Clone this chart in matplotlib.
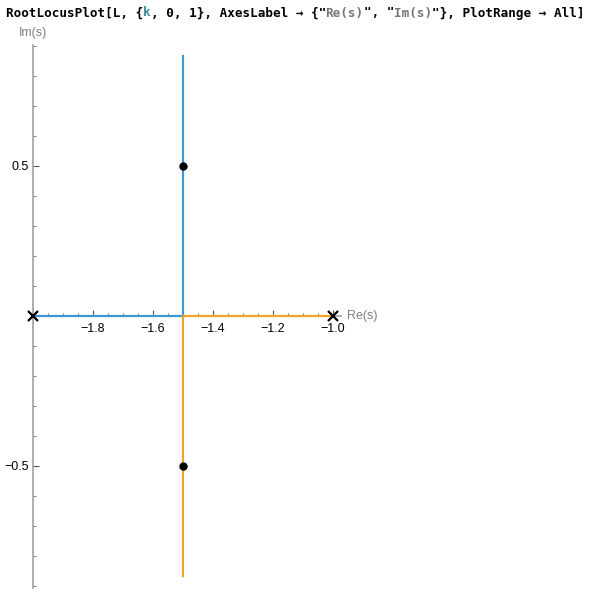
import numpy as np
import matplotlib.pyplot as plt
from matplotlib.ticker import MultipleLocator, FixedLocator

# root locus branches
blue_re = [-2.0, -1.5, -1.5]
blue_im = [0.0, 0.0, 0.866]
orange_re = [-1.0, -1.5, -1.5]
orange_im = [0.0, 0.0, -0.866]
poles_re = [-2.0, -1.0]
poles_im = [0.0, 0.0]
pts_re = [-1.5, -1.5]
pts_im = [0.5, -0.5]
xticks = [-1.8, -1.6, -1.4, -1.2, -1.0]
yticks = [-0.5, 0.5]

W, H = 591, 592
fig = plt.figure(figsize=(W / 100, H / 100), dpi=100)

# axes placed so that 1 data unit = 300 px
x0, x1 = -2.0, -0.975
y0, y1 = -0.905, 0.905
left_px, top_px = 33, 316 - y1 * 300
ax = fig.add_axes([left_px / W, 1 - (top_px + (y1 - y0) * 300) / H,
                   (x1 - x0) * 300 / W, (y1 - y0) * 300 / H])
ax.set_xlim(x0, x1)
ax.set_ylim(y0, y1)

ax.plot(blue_re, blue_im, color='#3f97d0', lw=1.6, zorder=3)
ax.plot(orange_re, orange_im, color='#f0a42e', lw=1.6, zorder=3)
ax.plot(pts_re, pts_im, 'o', color='black', ms=5, zorder=5, clip_on=False)
ax.plot(poles_re, poles_im, 'x', color='black', ms=7, mew=1.6, zorder=5,
        clip_on=False)

for s in ['top', 'right']:
    ax.spines[s].set_visible(False)
ax.spines['bottom'].set_position(('data', 0))
ax.spines['left'].set_position(('data', -2.0))
for s in ['left', 'bottom']:
    ax.spines[s].set_color('#a0a0a0')
    ax.spines[s].set_linewidth(1.2)

ax.xaxis.set_major_locator(FixedLocator(xticks))
ax.xaxis.set_minor_locator(MultipleLocator(0.05))
ax.yaxis.set_major_locator(FixedLocator(yticks))
ax.yaxis.set_minor_locator(FixedLocator([v / 10 for v in range(-9, 10) if v not in (0, -5, 5)]))
ax.set_xticklabels(['\u22121.8', '\u22121.6', '\u22121.4', '\u22121.2', '\u22121.0'])
ax.set_yticklabels(['\u22120.5', '0.5'])
ax.tick_params(which='major', direction='in', length=4, width=0.8, color='#555555',
               labelsize=9, pad=5)
ax.tick_params(axis='y', which='major', pad=3)
ax.tick_params(which='minor', direction='in', length=2.5, width=0.7, color='#777777')
for lab in ax.get_xticklabels() + ax.get_yticklabels():
    lab.set_family('Liberation Sans')

# axis labels
fig.text(347 / W, 1 - 316 / H, 'Re(s)', ha='left', va='center', fontsize=9,
         color='#808080', family='Liberation Sans')
fig.text(33 / W, 1 - 33 / H, 'Im(s)', ha='center', va='center', fontsize=9,
         color='#808080', family='Liberation Sans')

# input line above the plot
parts = [('RootLocusPlot[L, {', 'black'), ('k', '#3b8a96'),
         (', 0, 1}, AxesLabel \u2192 {"', 'black'), ('Re(s)', '#777777'),
         ('", "', 'black'), ('Im(s)', '#777777'),
         ('"}, PlotRange \u2192 All]', 'black')]
fs = 9.1
cw = 0.602 * fs * 100 / 72
x = 6
for txt, col in parts:
    fig.text(x / W, 1 - 13 / H, txt, ha='left', va='center', fontsize=fs,
             color=col, family='DejaVu Sans Mono', fontweight='bold')
    x += len(txt) * cw

fig.savefig('out.png', dpi=100)
